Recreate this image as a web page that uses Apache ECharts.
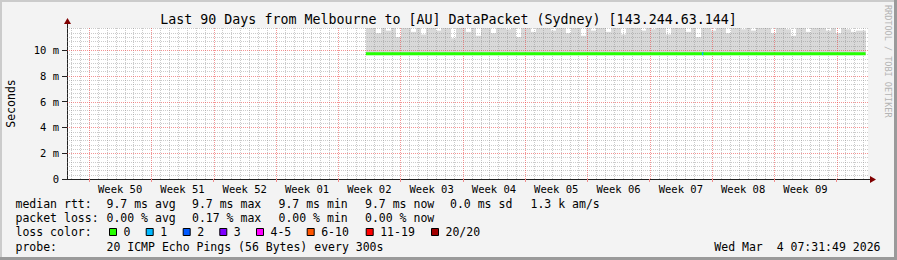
<!DOCTYPE html>
<html><head><meta charset="utf-8">
<script src="https://cdn.jsdelivr.net/npm/echarts@6/dist/echarts.min.js"></script>
<style>html,body{margin:0;padding:0;background:#f3f3f3}#c{width:897px;height:260px}</style>
</head><body><div id="c"></div><script>
// ---------- data ----------
const titleText = 'Last 90 Days from Melbourne to [AU] DataPacket (Sydney) [143.244.63.144]';
const yAxisName = 'Seconds';
const dayCount = 90;                 // x axis spans 90 days
const firstWeekDay = 2.47;           // first week boundary, in days after chart start
const weekLabels = ['Week 50','Week 51','Week 52','Week 01','Week 02','Week 03','Week 04','Week 05','Week 06','Week 07','Week 08','Week 09'];
const yMax = 11.7;
const yTickValues = [0, 2, 4, 6, 8, 10];
const yTickLabels = ['0', '2 m', '4 m', '6 m', '8 m', '10 m'];
const yMinorStep = 1 / 3;

const sampleStart = 33.58;           // first sample, days after chart start
const sampleStep = 0.5615;           // days per sample column
const smokeTop = [
 11.7,11.7,11.3,11.7,11.5,11.7,11.0,11.7,11.7,11.4,11.7,11.2,11.7,11.7,11.5,11.7,11.7,10.9,11.7,11.7,
 11.4,11.7,11.1,11.7,11.7,11.3,11.7,11.7,11.6,11.7,11.0,11.7,11.7,11.4,11.7,11.7,11.7,11.5,11.7,11.7,
 11.3,11.7,11.7,11.1,11.7,11.5,11.7,11.7,11.4,11.7,11.7,11.2,11.7,11.7,11.7,11.5,11.7,11.6,11.7,11.7,
 11.2,11.7,11.7,11.7,11.4,11.7,11.0,11.7,11.7,11.5,11.7,11.7,11.3,11.7,11.7,11.6,11.7,11.5,11.7,11.7,
 11.7,11.3,11.7,11.7,11.6,11.1,11.7,11.7,11.4,11.7,11.7,11.7,11.5,11.7,11.3,11.7,11.6,11.4,11.5,11.5];
const smokeLow = [
 9.6,9.6,9.6,9.6,9.6,9.6,9.6,9.6,9.6,9.6,9.6,9.6,9.6,9.6,9.6,9.6,9.6,9.6,9.6,9.6,
 9.6,9.6,9.6,9.6,9.6,9.6,9.6,9.6,9.6,9.6,9.6,9.6,9.6,9.6,9.6,9.6,9.6,9.6,9.6,9.6,
 9.6,9.6,9.6,9.6,9.6,9.6,9.6,9.6,9.6,9.6,9.6,9.6,9.6,9.6,9.6,9.6,9.6,9.6,9.6,9.6,
 9.6,9.6,9.6,9.6,9.6,9.6,9.6,9.6,9.6,9.6,9.6,9.6,9.6,9.6,9.6,9.6,9.6,9.6,9.6,9.6,
 9.6,9.6,9.6,9.6,9.6,9.6,9.6,9.6,9.6,9.6,9.6,9.6,9.6,9.6,9.6,9.6,9.6,9.6,9.6,9.6];
const medianRtt = [
 9.7,9.7,9.7,9.7,9.7,9.7,9.7,9.7,9.7,9.7,9.7,9.7,9.7,9.7,9.7,9.7,9.7,9.7,9.7,9.7,
 9.7,9.7,9.7,9.7,9.7,9.7,9.7,9.7,9.7,9.7,9.7,9.7,9.7,9.7,9.7,9.7,9.7,9.7,9.7,9.7,
 9.7,9.7,9.7,9.7,9.7,9.7,9.7,9.7,9.7,9.7,9.7,9.7,9.7,9.7,9.7,9.7,9.7,9.7,9.7,9.7,
 9.7,9.7,9.7,9.7,9.7,9.7,9.7,9.7,9.7,9.7,9.7,9.7,9.7,9.7,9.7,9.7,9.7,9.7,9.7,9.7,
 9.7,9.7,9.7,9.7,9.7,9.7,9.7,9.7,9.7,9.7,9.7,9.7,9.7,9.7,9.7,9.7,9.7,9.7,9.7,9.7];
const lossEventDays = [71.42];       // one lost ping (1/20)

const legendRows = [
  [['median rtt:', 16], ['9.7 ms avg', 107], ['9.7 ms max', 192.5], ['9.7 ms min', 279], ['9.7 ms now', 365.5], ['0.0 ms sd', 450.5], ['1.3 k am/s', 531]],
  [['packet loss:', 16], ['0.00 % avg', 107], ['0.17 % max', 192.5], ['0.00 % min', 279], ['0.00 % now', 365.5]],
  [['loss color:', 16]],
  [['probe:', 16], ['20 ICMP Echo Pings (56 Bytes) every 300s', 107]]
];
const lossColorLabels = ['0', '1', '2', '3', '4-5', '6-10', '11-19', '20/20'];
const lossColors = ['#26ff00', '#00b8ff', '#0059ff', '#7e00ff', '#ff00ff', '#ff5500', '#ff0000', '#a10000'];
const lossBoxX = [109, 145.7, 182.7, 219.3, 256, 306.7, 365.7, 431];
const dateText = 'Wed Mar  4 07:31:49 2026';
const creditText = 'RRDTOOL / TOBI OETIKER';

// ---------- build ----------
const FONT = '"DejaVu Sans Mono", monospace';
const weekBounds = [];
for (let d = firstWeekDay; d < dayCount; d += 7) weekBounds.push(+d.toFixed(3));
const weekMids = weekLabels.map((_, i) => +(firstWeekDay + 3.5 + 7 * i).toFixed(3));
const dayLines = [];
for (let d = firstWeekDay % 1; d < dayCount; d += 1) {
  const isWeek = weekBounds.some(w => Math.abs(w - d) < 0.01);
  if (!isWeek) dayLines.push(+d.toFixed(3));
}
const yMinor = [];
for (let k = 1; k * yMinorStep < yMax; k++) {
  const v = k * yMinorStep;
  if (Math.abs(v / 2 - Math.round(v / 2)) > 0.01) yMinor.push(+v.toFixed(4));
}
const yMajor = yTickValues.filter(v => v > 0);

// grid line records: [value, dir(0 vertical / 1 horizontal), major]
const gridData = [];
dayLines.forEach(d => gridData.push([d, 0, 0]));
yMinor.forEach(v => gridData.push([v, 1, 0]));
weekBounds.forEach(d => gridData.push([d, 0, 1]));
yMajor.forEach(v => gridData.push([v, 1, 1]));

const sampleTimes = smokeTop.map((_, i) => sampleStart + i * sampleStep);
const smokeData = sampleTimes.map((t, i) => [t, smokeLow[i], smokeTop[i]]);
const medianData = sampleTimes.map((t, i) => [t, medianRtt[i]]);
medianData.push([sampleStart + smokeTop.length * sampleStep, medianRtt[medianRtt.length - 1]]);

const graphics = [];
// frame shading
graphics.push({type:'rect', shape:{x:0,y:0,width:897,height:2}, style:{fill:'#cbcbcb'}, silent:true});
graphics.push({type:'rect', shape:{x:0,y:0,width:2,height:260}, style:{fill:'#cbcbcb'}, silent:true});
graphics.push({type:'rect', shape:{x:0,y:257,width:897,height:3}, style:{fill:'#9a9a9a'}, silent:true});
graphics.push({type:'rect', shape:{x:894,y:0,width:3,height:260}, style:{fill:'#9a9a9a'}, silent:true});
// axis arrows
graphics.push({type:'line', shape:{x1:67.5,y1:28,x2:67.5,y2:23}, style:{stroke:'#222',lineWidth:1}, silent:true});
graphics.push({type:'polygon', shape:{points:[[67.5,18],[64,24],[71,24]]}, style:{fill:'#800000'}, silent:true});
graphics.push({type:'line', shape:{x1:868,y1:179.5,x2:871,y2:179.5}, style:{stroke:'#222',lineWidth:1}, silent:true});
graphics.push({type:'polygon', shape:{points:[[876,179.5],[870,176],[870,183]]}, style:{fill:'#800000'}, silent:true});
// credit
graphics.push({type:'text', x:888, y:5, rotation:-Math.PI/2, style:{text:creditText, font:'8.5px ' + FONT, fill:'#b4b4b4', textAlign:'left', textVerticalAlign:'middle'}, silent:true});
// legend rows
const rowY = [204.3, 218.3, 232.3, 246.7];
legendRows.forEach((row, r) => {
  row.forEach(([txt, x]) => {
    graphics.push({type:'text', x:x - 0.5, y:rowY[r], style:{text:txt, font:'11.5px ' + FONT, fill:'#000', textAlign:'left', textVerticalAlign:'middle'}, silent:true});
  });
});
lossColorLabels.forEach((lab, i) => {
  graphics.push({type:'rect', shape:{x:lossBoxX[i] + 0.5, y:228.5, width:7, height:7}, style:{fill:lossColors[i], stroke:'#000', lineWidth:1}, silent:true});
  graphics.push({type:'text', x:lossBoxX[i] + 14.5, y:rowY[2], style:{text:lab, font:'11.5px ' + FONT, fill:'#000', textAlign:'left', textVerticalAlign:'middle'}, silent:true});
});
graphics.push({type:'text', x:880.5, y:rowY[3], style:{text:dateText, font:'11.5px ' + FONT, fill:'#000', textAlign:'right', textVerticalAlign:'middle'}, silent:true});

const chart = echarts.init(document.getElementById('c'), null, {renderer:'svg', width:897, height:260});
chart.setOption({
  animation: false,
  backgroundColor: '#f3f3f3',
  title: {text: titleText, left: 'center', top: 12, padding: 0,
    textStyle: {fontFamily: FONT, fontSize: 13.3, fontWeight: 'normal', color: '#000', lineHeight: 14}},
  grid: {left: 67, top: 28, width: 801, height: 151, show: true, backgroundColor: '#ffffff', borderWidth: 0,
    containLabel: false, outerBoundsMode: 'none'},
  xAxis: {
    type: 'value', min: 0, max: dayCount,
    axisLine: {show: true, lineStyle: {color: '#222', width: 1}},
    axisTick: {show: true, customValues: weekBounds, length: 3, lineStyle: {color: '#f08a8a'}},
    axisLabel: {show: true, customValues: weekMids, margin: 4, fontFamily: FONT, fontSize: 10.5, color: '#000',
      formatter: v => weekLabels[Math.round((v - firstWeekDay - 3.5) / 7)] || ''},
    splitLine: {show: false}
  },
  yAxis: {
    type: 'value', min: 0, max: yMax,
    name: yAxisName, nameLocation: 'middle', nameRotate: 90, nameGap: 50,
    nameTextStyle: {fontFamily: FONT, fontSize: 11.5, color: '#000'},
    axisLine: {show: true, lineStyle: {color: '#222', width: 1}},
    axisTick: {show: true, customValues: yTickValues, length: 5, lineStyle: {color: '#222'}},
    axisLabel: {show: true, customValues: yTickValues, margin: 8, fontFamily: FONT, fontSize: 10.5, color: '#000',
      formatter: v => { const i = yTickValues.findIndex(t => Math.abs(t - v) < 1e-6); return i >= 0 ? yTickLabels[i] : ''; }},
    splitLine: {show: false}
  },
  series: [
    {
      name: 'smoke', type: 'custom', z: 2, clip: true, silent: true,
      data: smokeData,
      renderItem: (params, api) => {
        const t = api.value(0), lo = api.value(1), hi = api.value(2);
        const p0 = api.coord([t, hi]), p1 = api.coord([t + sampleStep, lo]);
        const x0 = Math.round(p0[0]), x1 = Math.round(p1[0]);
        return {type: 'rect', shape: {x: x0, y: p0[1], width: x1 - x0, height: p1[1] - p0[1]}, style: {fill: '#d8d8d8'}};
      }
    },
    {
      name: 'grid', type: 'custom', z: 4, clip: false, silent: true,
      data: gridData,
      renderItem: (params, api) => {
        const v = api.value(0), dir = api.value(1), major = api.value(2);
        const cs = params.coordSys;
        let shape;
        if (dir === 0) {
          const x = Math.round(api.coord([v, 0])[0]) + 0.5;
          shape = {x1: x, y1: cs.y, x2: x, y2: cs.y + cs.height};
        } else {
          const y = Math.round(api.coord([0, v])[1]) + 0.5;
          shape = {x1: cs.x, y1: y, x2: cs.x + cs.width, y2: y};
        }
        return {type: 'line', shape, style: {stroke: major ? 'rgba(235,60,60,0.55)' : 'rgba(140,140,140,0.45)', lineWidth: 1, lineDash: [1, 1]}};
      }
    },
    {
      name: 'median rtt', type: 'line', z: 10, data: medianData, showSymbol: false, silent: true,
      lineStyle: {color: '#26ff00', width: 3}
    },
    {
      name: 'loss', type: 'line', z: 11, silent: true, showSymbol: false,
      data: lossEventDays.flatMap(d => [[d - 0.08, medianRtt[0]], [d + 0.08, medianRtt[0]]]),
      lineStyle: {color: '#00b8ff', width: 3}
    }
  ],
  graphic: graphics
});
</script></body></html>
